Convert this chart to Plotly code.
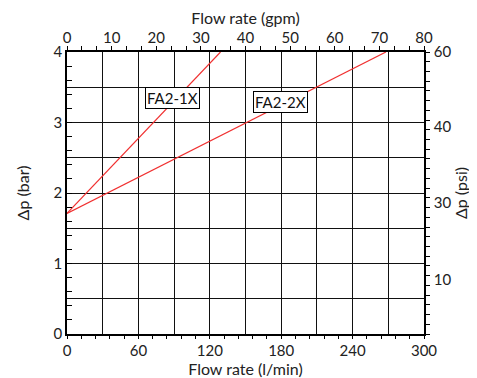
import plotly.graph_objects as go

# ---- data ----
series_names = ["FA2-1X", "FA2-2X"]
flow_lpm_1x = [0, 129]
dp_bar_1x = [1.71, 4.0]
flow_lpm_2x = [0, 268]
dp_bar_2x = [1.71, 4.0]

lpm_tick_labels = [0, 60, 120, 180, 240, 300]
lpm_grid = [0, 30, 60, 90, 120, 150, 180, 210, 240, 270, 300]
gpm_tick_labels = [0, 10, 20, 30, 40, 50, 60, 70, 80]
bar_tick_labels = [0, 1, 2, 3, 4]
bar_grid = [0, 0.5, 1, 1.5, 2, 2.5, 3, 3.5, 4]
psi_tick_labels = ["10", "30", "40", "60"]
psi_label_at = [11.2, 26.9, 42.6, 58]

FONT = "Lato"
TXT = "#222"
RED = "#f03030"
GRID = "#111"

fig = go.Figure()
fig.add_trace(go.Scatter(x=flow_lpm_1x, y=dp_bar_1x, mode="lines", name=series_names[0],
                         line=dict(color=RED, width=1.2), showlegend=False, cliponaxis=False))
fig.add_trace(go.Scatter(x=flow_lpm_2x, y=dp_bar_2x, mode="lines", name=series_names[1],
                         line=dict(color=RED, width=1.2), showlegend=False, cliponaxis=False))

# empty traces so that the secondary axes get drawn
for xa, ya in [("x2", "y"), ("x", "y2"), ("x3", "y"), ("x", "y3")]:
    fig.add_trace(go.Scatter(x=[], y=[], xaxis=xa, yaxis=ya, mode="lines",
                             showlegend=False, hoverinfo="skip"))

tickfont = dict(family=FONT, size=15, color=TXT)
titlefont = dict(family=FONT, size=16, color=TXT)

fig.update_layout(
    width=469, height=370,
    margin=dict(l=59, r=53, t=44, b=44, autoexpand=False),
    paper_bgcolor="white", plot_bgcolor="white",
    font=dict(family=FONT, color=TXT),
    xaxis=dict(
        range=[0, 300], anchor="y", side="bottom", automargin=False,
        tickmode="array", tickvals=lpm_grid,
        ticktext=[str(v) if v in lpm_tick_labels else "" for v in lpm_grid],
        ticks="", showgrid=True, gridcolor=GRID, gridwidth=1.4,
        showline=True, linecolor="black", linewidth=1.5, zeroline=False,
        tickfont=tickfont, ticklabelstandoff=2,
        title=dict(text="Flow rate (l/min)", font=titlefont, standoff=2),
    ),
    xaxis3=dict(
        range=[0, 300], overlaying="x", anchor="y", side="bottom", automargin=False,
        tick0=0, dtick=12, ticks="outside", ticklen=4, tickcolor="black", tickwidth=1.2,
        showticklabels=False, showgrid=False, showline=False, zeroline=False,
    ),
    xaxis2=dict(
        range=[0, 80], overlaying="x", anchor="y", side="top", automargin=False,
        tickmode="array", tickvals=gpm_tick_labels,
        ticks="outside", ticklen=4, tickcolor="black", tickwidth=1.2,
        minor=dict(tick0=0, dtick=10 / 3, ticks="outside", ticklen=4, tickcolor="black", tickwidth=1.2),
        showgrid=False, zeroline=False,
        showline=True, linecolor="black", linewidth=1.5,
        tickfont=tickfont, ticklabelstandoff=-3,
        title=dict(text="Flow rate (gpm)", font=titlefont, standoff=8),
    ),
    yaxis=dict(
        range=[0, 4], anchor="x", side="left", automargin=False,
        tickmode="array", tickvals=bar_grid,
        ticktext=[str(int(v)) if v in bar_tick_labels else "" for v in bar_grid],
        ticks="", showgrid=True, gridcolor=GRID, gridwidth=1.4,
        showline=True, linecolor="black", linewidth=1.5, zeroline=False,
        tickfont=tickfont, ticklabelstandoff=0,
        title=dict(text="Δp (bar)", font=titlefont, standoff=20),
    ),
    yaxis3=dict(
        range=[0, 4], overlaying="y", anchor="x", side="left", automargin=False,
        tick0=0, dtick=0.2, ticks="inside", ticklen=5, tickcolor="black", tickwidth=1.2,
        showticklabels=False, showgrid=False, showline=False, zeroline=False,
    ),
    yaxis2=dict(
        range=[0, 58], overlaying="y", anchor="x", side="right", automargin=False,
        tickmode="array", tickvals=psi_label_at, ticktext=psi_tick_labels,
        ticks="",
        minor=dict(tick0=0, dtick=2, ticks="outside", ticklen=4, tickcolor="black", tickwidth=1.2),
        showgrid=False, zeroline=False,
        showline=True, linecolor="black", linewidth=1.5,
        tickfont=tickfont, ticklabelstandoff=5,
        title=dict(text="Δp (psi)", font=titlefont, standoff=2),
    ),
)

fig.add_annotation(x=89, y=3.35, xref="x", yref="y", text=series_names[0], showarrow=False,
                   font=dict(family=FONT, size=15, color="#111"), bgcolor="white",
                   bordercolor="black", borderwidth=1, borderpad=1)
fig.add_annotation(x=179, y=3.29, xref="x", yref="y", text=series_names[1], showarrow=False,
                   font=dict(family=FONT, size=15, color="#111"), bgcolor="white",
                   bordercolor="black", borderwidth=1, borderpad=1)

fig.write_html("out.html")
